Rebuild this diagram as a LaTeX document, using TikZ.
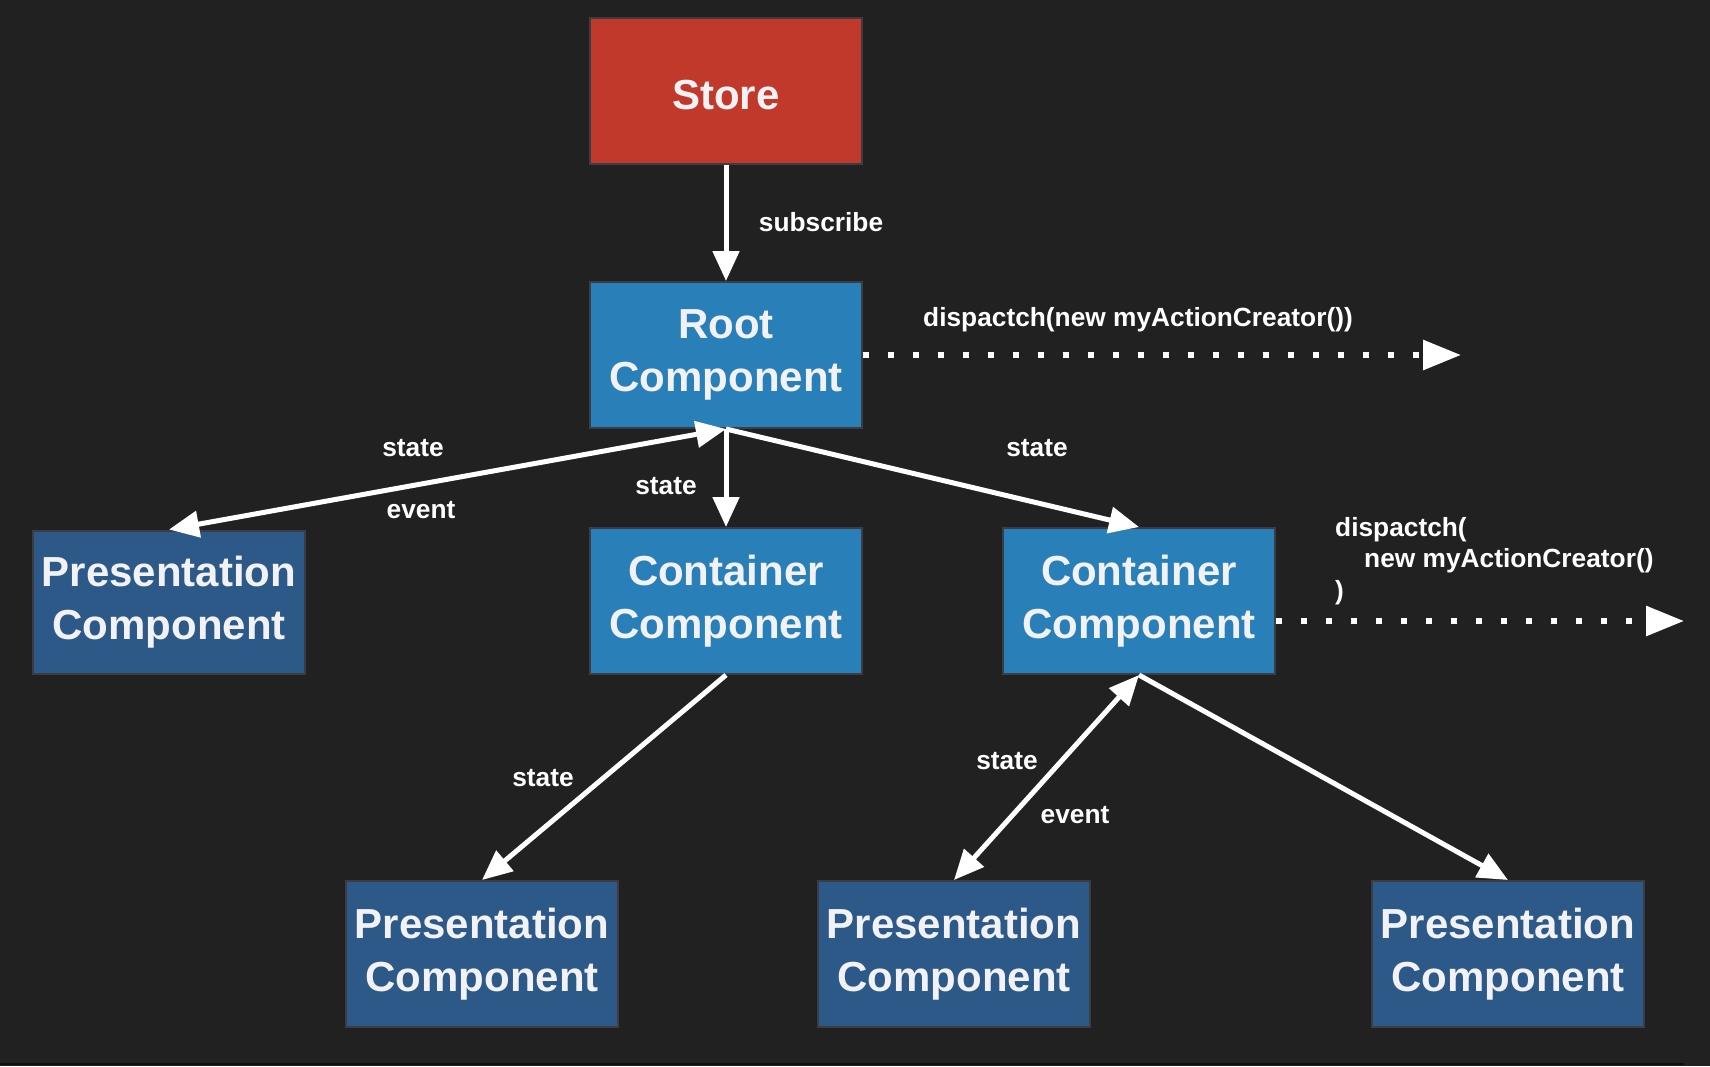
\documentclass[tikz,border=0pt]{standalone}
\usepackage{fontspec}
\setmainfont{Liberation Sans}
\usetikzlibrary{arrows.meta}
\definecolor{bg}{HTML}{212121}
\definecolor{storered}{HTML}{C0392B}
\definecolor{contblue}{HTML}{2980B9}
\definecolor{presblue}{HTML}{2C5987}
\definecolor{boxedge}{HTML}{3C3C44}
\definecolor{txt}{HTML}{F2F2F5}
\definecolor{rule}{HTML}{0E0E0E}
\begin{document}
\begin{tikzpicture}[x=1pt,y=-1pt,
  box/.style={draw=boxedge,line width=2pt,minimum width=272pt,minimum height=146pt,inner sep=0pt,align=center,text=txt,font=\fontsize{42}{52.5}\selectfont\bfseries},
  storebox/.style={box,fill=storered},
  contbox/.style={box,fill=contblue},
  presbox/.style={box,fill=presblue},
  lbl/.style={text=white,font=\fontsize{26.3}{31.5}\selectfont\bfseries,inner sep=0pt},
  conn/.style={draw=white,line width=5pt,-{Triangle[length=30pt,width=26pt]}},
  conntwo/.style={draw=white,line width=5pt,{Triangle[length=30pt,width=26pt]}-{Triangle[length=30pt,width=26pt]}},
  dotline/.style={draw=white,line width=6pt,dash pattern=on 6pt off 19pt,-{Triangle[length=38pt,width=29pt]}}]
\useasboundingbox (0,0) rectangle (1710,1066);
\fill[bg] (0,0) rectangle (1710,1066);
\draw[rule,line width=2pt] (0,1064) -- (1684,1064);

\node[storebox,text height=38pt] (store) at (726,91) {Store};
\node[contbox] (root) at (726,355) {Root\\Component};
\node[contbox] (c1) at (726,601) {Container\\Component};
\node[contbox] (c2) at (1139,601) {Container\\Component};
\node[presbox,minimum height=143pt] (pl) at (169,602) {Presentation\\Component};
\node[presbox] (p1) at (482,954) {Presentation\\Component};
\node[presbox] (p2) at (954,954) {Presentation\\Component};
\node[presbox] (p3) at (1508,954) {Presentation\\Component};

\coordinate (d1) at (1461,355);
\coordinate (d2) at (1684,621);

\draw[conn] (store.south) -- (root.north);
\draw[conntwo] (root.south) -- (pl.north);
\draw[conn] (root.south) -- (c1.north);
\draw[conn] (root.south) -- (c2.north);
\draw[conn] (c1.south) -- (p1.north);
\draw[conntwo] (c2.south) -- (p2.north);
\draw[conn] (c2.south) -- (p3.north);
\draw[dotline] (root.east) -- (d1);
\draw[dotline] ([yshift=-20pt]c2.east) -- (d2);

\node[lbl] (lsub) at (821,222) {subscribe};
\node[lbl] (ldis1) at (1138,320) {dispactch(new myActionCreator())};
\node[lbl,anchor=north west,align=left] (ldis2) at (1335,517) {dispactch(\\\hspace*{29pt}new myActionCreator()\\)};
\node[lbl] (ls1) at (413,448) {state};
\node[lbl] (le1) at (421,510) {event};
\node[lbl] (ls2) at (666,486) {state};
\node[lbl] (ls3) at (1037,448) {state};
\node[lbl] (ls4) at (543,778) {state};
\node[lbl] (ls5) at (1007,761) {state};
\node[lbl] (le2) at (1075,815) {event};
\end{tikzpicture}
\end{document}
